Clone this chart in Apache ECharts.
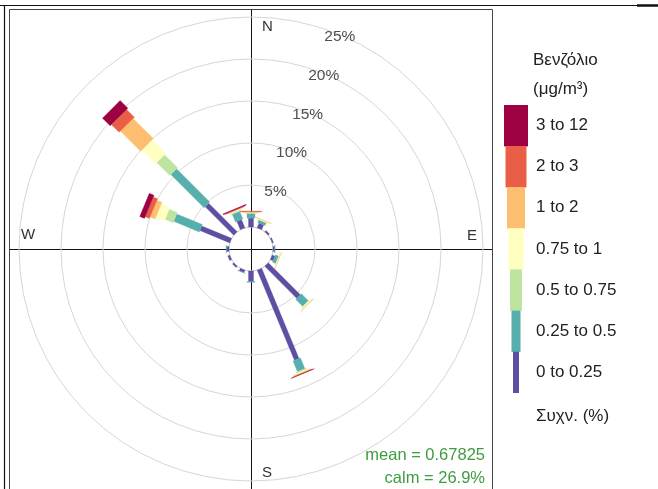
<!DOCTYPE html>
<html><head><meta charset="utf-8">
<script src="https://cdn.jsdelivr.net/npm/echarts@6/dist/echarts.min.js"></script>
<style>html,body{margin:0;padding:0;background:#fff}#c{width:658px;height:489px}</style>
</head><body><div id="c"></div>
<script>
// ---- data ----
const directions = [0,22.5,45,67.5,90,112.5,135,157.5,180,202.5,225,247.5,270,292.5,315,337.5];
const bandLabels = ['0 to 0.25','0.25 to 0.5','0.5 to 0.75','0.75 to 1','1 to 2','2 to 3','3 to 12'];
// frequency (%) per direction, one array per concentration band
const band0 = [1.05,0.6,0.2,0.15,0.2,0.35,5.4,11.6,1.25,0.3,0.2,0.25,0.3,3.85,4.8,1.05];
const band1 = [0.55,0.35,0,0,0.05,0.4,1.15,1.4,0.1,0.05,0,0,0.05,3.3,5.6,1.0];
const band2 = [0.1,0.05,0,0,0,0.05,0.1,0.15,0,0,0,0,0,1.05,2.2,0.15];
const band3 = [0.05,0.08,0,0,0,0.08,0.15,0.12,0,0,0,0,0,1.1,2.3,0.1];
const band4 = [0.05,0.05,0,0,0,0.03,0.05,0.1,0,0,0,0,0,0.65,3.4,0.06];
const band5 = [0.1,0,0,0,0,0,0,0.05,0,0,0,0,0,0.55,1.3,0.06];
const band6 = [0,0,0,0,0,0,0,0.03,0,0,0,0,0,0.6,1.3,0.1];
const ringTicks = [5,10,15,20,25];
const legendTitle = ['Βενζόλιο','(μg/m³)'];
const freqLabel = 'Συχν. (%)';
const meanText = 'mean = 0.67825';
const calmText = 'calm = 26.9%';

// ---- style ----
const bandColors = ['#5E4FA2','#55AFAD','#BEE5A0','#FFFFBF','#FDBE6F','#EA5E47','#9E0142'];
const paddleWidths = [5,8,11,14.5,18,21.5,25];
const legendWidths = [6,9,12,15,18,21,24];
const FONT = '"Liberation Sans", Arial, sans-serif';
const CX = 251, CY = 249, R0 = 22, R1 = 232;

const bands = [band0,band1,band2,band3,band4,band5,band6];
const segs = [];
directions.forEach((d,i)=>{
  let cum = 0;
  bands.forEach((b,k)=>{ const v=b[i]; if(v>0) segs.push([d,k,cum,cum+v]); cum+=v; });
});

const chart = echarts.init(document.getElementById('c'), null, {renderer:'canvas'});

const graphics = [];
// page frame
graphics.push({type:'line', shape:{x1:0,y1:5.5,x2:658,y2:5.5}, style:{stroke:'#111',lineWidth:1.2}});
graphics.push({type:'line', shape:{x1:637,y1:5.5,x2:658,y2:5.5}, style:{stroke:'#111',lineWidth:2.5}});
graphics.push({type:'line', shape:{x1:4.5,y1:5,x2:4.5,y2:489}, style:{stroke:'#111',lineWidth:1.2}});
// panel
graphics.push({type:'rect', shape:{x:9.5,y:9.5,width:483,height:500}, style:{fill:null,stroke:'#444',lineWidth:1}});
// axis cross
graphics.push({type:'line', shape:{x1:CX+0.5,y1:10,x2:CX+0.5,y2:489}, style:{stroke:'#111',lineWidth:1}});
graphics.push({type:'line', shape:{x1:10,y1:CY+0.5,x2:492,y2:CY+0.5}, style:{stroke:'#111',lineWidth:1}});
// cardinal labels
const card = [['N',CX+11,27],['S',CX+11,473],['E',467,CY-13],['W',21,CY-14]];
card.forEach(c=>graphics.push({type:'text', z:5, style:{text:c[0], x:c[1], y:c[2], fill:'#333', font:'15px '+FONT, textVerticalAlign:'middle'}}));
// stats
graphics.push({type:'text', z:5, style:{text:meanText, x:485, y:455, fill:'#3f9b3f', font:'16.5px '+FONT, textAlign:'right', textVerticalAlign:'middle'}});
graphics.push({type:'text', z:5, style:{text:calmText, x:485, y:478, fill:'#3f9b3f', font:'16.5px '+FONT, textAlign:'right', textVerticalAlign:'middle'}});
// legend
graphics.push({type:'text', style:{text:legendTitle[0], x:533, y:60, fill:'#222', font:'17px '+FONT, textVerticalAlign:'middle'}});
graphics.push({type:'text', style:{text:legendTitle[1], x:533, y:89, fill:'#222', font:'17px '+FONT, textVerticalAlign:'middle'}});
const boxH = 41.1;
for (let k=6;k>=0;k--){
  const top = 105 + (6-k)*boxH;
  const w = legendWidths[k];
  graphics.push({type:'rect', shape:{x:516-w/2, y:top, width:w, height:boxH+0.3}, style:{fill:bandColors[k]}});
  graphics.push({type:'text', style:{text:bandLabels[k], x:536, y:top+boxH/2, fill:'#222', font:'17px '+FONT, textVerticalAlign:'middle'}});
}
graphics.push({type:'text', style:{text:freqLabel, x:536, y:416, fill:'#222', font:'17px '+FONT, textVerticalAlign:'middle'}});

chart.setOption({
  animation:false,
  backgroundColor:'#fff',
  polar:{center:[CX,CY], radius:[R0,R1]},
  angleAxis:{type:'value', min:0, max:360, startAngle:90, clockwise:true,
    axisLine:{show:false}, axisTick:{show:false}, axisLabel:{show:false}, splitLine:{show:false}},
  radiusAxis:{type:'value', min:0, max:25, interval:5,
    axisLine:{show:false}, axisTick:{show:false}, axisLabel:{show:false},
    splitLine:{show:true, lineStyle:{color:['#c4c4c4','#d6d6d6','#d6d6d6','#d6d6d6','#d6d6d6','#d6d6d6'], width:1}}},
  graphic:graphics,
  series:[
    {type:'custom', coordinateSystem:'polar', data:segs, z:3,
      renderItem:function(params, api){
        const dir=api.value(0), k=api.value(1), r0=api.value(2), r1=api.value(3);
        const a=api.coord([r0,dir]), b=api.coord([r1,dir]);
        const o=api.coord([0,dir]), f=api.coord([25,dir]);
        let ux=f[0]-o[0], uy=f[1]-o[1]; const L=Math.hypot(ux,uy); ux/=L; uy/=L;
        const nx=-uy, ny=ux, h=paddleWidths[k]/2;
        return {type:'polygon', shape:{points:[
          [a[0]+nx*h,a[1]+ny*h],[b[0]+nx*h,b[1]+ny*h],[b[0]-nx*h,b[1]-ny*h],[a[0]-nx*h,a[1]-ny*h]]},
          style:{fill:bandColors[k], stroke:bandColors[k], lineWidth:0.3}};
      }
    },
    {type:'scatter', coordinateSystem:'polar', z:4, symbolSize:1, itemStyle:{color:'rgba(0,0,0,0)'},
      data:ringTicks.map(t=>[t,22.5]),
      label:{show:true, position:'inside', offset:[0,2], formatter:p=>p.value[0]+'%', color:'#222', fontSize:15.5, fontFamily:FONT}
    }
  ]
});
</script></body></html>
